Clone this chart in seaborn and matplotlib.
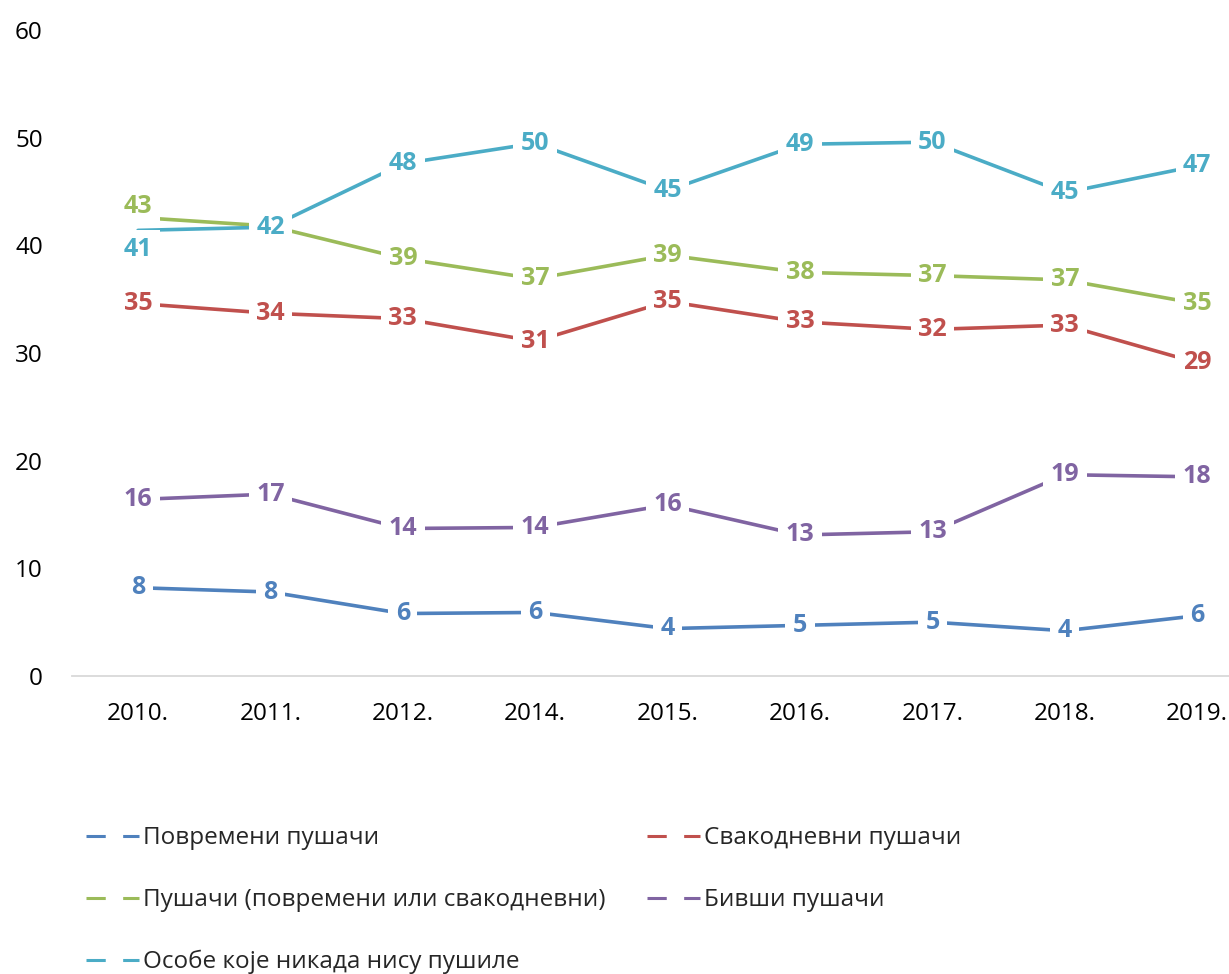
import numpy as np
import pandas as pd
import seaborn as sns
import matplotlib.pyplot as plt
from matplotlib.lines import Line2D

years = ['2010.', '2011.', '2012.', '2014.', '2015.', '2016.', '2017.', '2018.', '2019.']

povremeni = [8.2, 7.8, 5.8, 5.9, 4.4, 4.7, 5.0, 4.2, 5.6]
svakodnevni = [34.6, 33.7, 33.2, 31.1, 34.8, 32.9, 32.2, 32.6, 29.1]
pusaci = [42.6, 41.8, 38.8, 36.9, 39.1, 37.5, 37.2, 36.8, 34.6]
bivsi = [16.4, 16.9, 13.7, 13.8, 15.9, 13.1, 13.4, 18.7, 18.5]
nikada = [41.4, 41.7, 47.6, 49.5, 45.1, 49.4, 49.6, 44.9, 47.4]

series_names = ['Повремени пушачи', 'Свакодневни пушачи',
                'Пушачи (повремени или свакодневни)', 'Бивши пушачи',
                'Особе које никада нису пушиле']
series_vals = [povremeni, svakodnevni, pusaci, bivsi, nikada]
colors = ['#4F81BD', '#C0504D', '#9BBB59', '#8064A2', '#4BACC6']

rows = []
for name, vals in zip(series_names, series_vals):
    for i, v in enumerate(vals):
        rows.append({'x': i, 'value': v, 'series': name})
df = pd.DataFrame(rows)

sns.set_theme(style="white")
plt.rcParams['font.family'] = ['Open Sans', 'DejaVu Sans']

fig = plt.figure(figsize=(12.29, 9.74), dpi=100)
ax = fig.add_axes([0.0586, 0.306, 0.9414, 0.663])

sns.lineplot(data=df, x='x', y='value', hue='series', hue_order=series_names,
             palette=colors, linewidth=2.6, ax=ax, legend=False)

# data labels (the two crowded 2010 labels are nudged up / down)
nudge = {(2, 0): 8, (4, 0): -14}
for k, (name, vals, c) in enumerate(zip(series_names, series_vals, colors)):
    for i, v in enumerate(vals):
        ax.annotate("{:.0f}".format(v), xy=(i, v),
                    xytext=(0, nudge.get((k, i), 0)), textcoords='offset points',
                    ha='center', va='center', fontsize=18, fontweight='bold',
                    color=c,
                    bbox=dict(boxstyle='square,pad=0.3', fc='white', ec='none'))

ax.set_xlim(-0.4985, 8.24)
ax.set_ylim(0, 60)
ax.set_yticks(np.arange(0, 61, 10))
ax.set_xticks(range(len(years)))
ax.set_xticklabels(years)
ax.tick_params(axis='y', length=0, pad=21, labelsize=17.5, labelcolor='black')
ax.tick_params(axis='x', length=0, pad=19, labelsize=17.5, labelcolor='black')
ax.set_xlabel('')
ax.set_ylabel('')
for s in ['top', 'right', 'left']:
    ax.spines[s].set_visible(False)
ax.spines['bottom'].set_color('#D9D9D9')
ax.spines['bottom'].set_linewidth(1.3)

handles = [Line2D([0], [0], color=c, lw=2.2, linestyle=(0, (6.3, 5.7)))
           for c in colors]
order = [0, 2, 4, 1, 3]
fig.legend([handles[k] for k in order], [series_names[k] for k in order],
           ncol=2, loc='upper left', bbox_to_anchor=(0.06, 0.164),
           frameon=False, fontsize=17.5, handlelength=2.2, handletextpad=0.15,
           labelspacing=1.55, columnspacing=1.7, borderpad=0)

fig.savefig('out.png', dpi=100)
